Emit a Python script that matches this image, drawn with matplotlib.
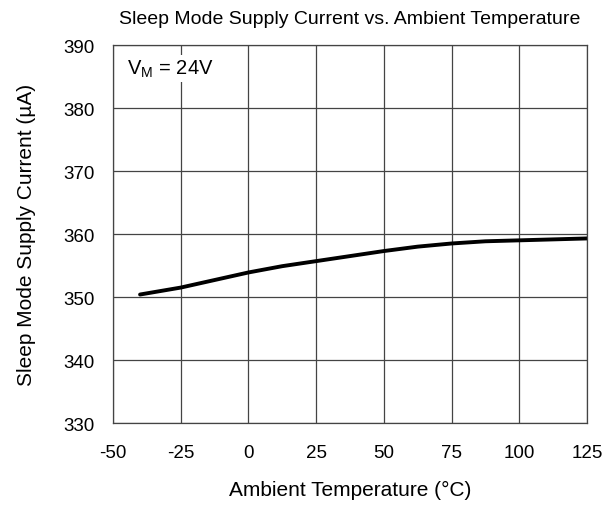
import numpy as np
import matplotlib.pyplot as plt

plt.rcParams['font.family'] = ['Liberation Sans', 'DejaVu Sans']
plt.rcParams['axes.unicode_minus'] = False

temp = [-40, -25, -12.5, 0, 12.5, 25, 37.5, 50, 62.5, 75, 87.5, 100, 112.5, 125]
current = [350.4, 351.5, 352.7, 353.9, 354.9, 355.7, 356.5, 357.3, 358.0, 358.5,
           358.85, 359.0, 359.15, 359.3]

xticks = [-50, -25, 0, 25, 50, 75, 100, 125]
yticks = [330, 340, 350, 360, 370, 380, 390]

fig = plt.figure(figsize=(6.15, 5.06), dpi=100)
ax = fig.add_axes([0.1837, 0.162, 0.7708, 0.747])

ax.plot(temp, current, color='black', lw=2.8, solid_capstyle='round',
        solid_joinstyle='round')

ax.set_xlim(-50, 125)
ax.set_ylim(330, 390)
ax.set_xticks(xticks)
ax.set_yticks(yticks)
ax.grid(True, color='#444444', lw=0.9)
ax.set_axisbelow(True)
ax.tick_params(length=0, labelsize=13.5)
ax.tick_params(axis='x', pad=15)
ax.tick_params(axis='y', pad=13)
for s in ax.spines.values():
    s.set_color('#444444')
    s.set_linewidth(0.9)

ax.set_xlabel('Ambient Temperature (°C)', fontsize=15, labelpad=14)
ax.set_ylabel('Sleep Mode Supply Current (µA)', fontsize=15, labelpad=20)
ax.set_title('Sleep Mode Supply Current vs. Ambient Temperature', fontsize=14, pad=16)

ax.text(-45, 386.3, r'V$_\mathregular{M}$ = 24V', fontsize=14.5, ha='left', va='center',
        bbox=dict(facecolor='white', edgecolor='none', pad=2))

fig.savefig('out.png', dpi=100)
